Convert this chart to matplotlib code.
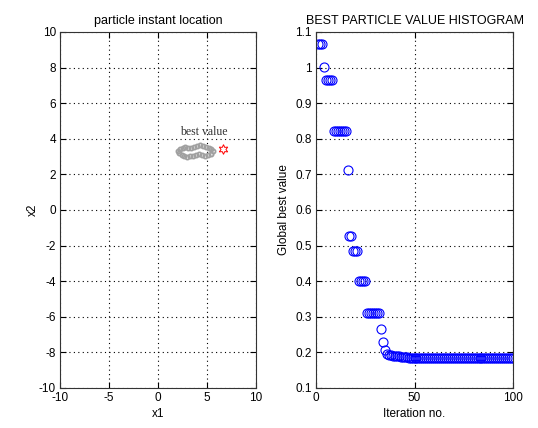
import matplotlib
matplotlib.use('Agg')
import matplotlib.pyplot as plt

# particle positions (left panel)
px = [2.0, 2.2, 2.5, 2.8, 3.1, 3.4, 3.7, 4.0, 4.3, 4.6, 4.9, 5.2, 5.45, 5.6,
      5.4, 5.1, 4.8, 4.5, 4.2, 3.9, 3.6, 3.3, 3.0, 2.7, 2.4, 2.1]
py = [3.3, 3.45, 3.5, 3.55, 3.5, 3.5, 3.55, 3.6, 3.65, 3.6, 3.55, 3.5, 3.4, 3.3,
      3.15, 3.1, 3.05, 3.1, 3.15, 3.1, 3.05, 3.05, 3.0, 3.05, 3.1, 3.2]
best_x, best_y = 6.6, 3.4

# best value per iteration (right panel)
iters = list(range(1, 101))
best_vals = ([1.065] * 3 + [1.003] + [0.964] * 4 + [0.822] * 7 + [0.713]
             + [0.528] * 2 + [0.486] * 3 + [0.400] * 4 + [0.311] * 7
             + [0.265, 0.228, 0.206]
             + [0.195, 0.193, 0.192, 0.191, 0.190, 0.190, 0.189]
             + [0.188, 0.187, 0.186, 0.186, 0.185, 0.185, 0.184, 0.184]
             + [0.183] * 50)

plt.rcParams['font.family'] = ['Liberation Sans', 'DejaVu Sans']
plt.rcParams['font.size'] = 8.5
plt.rcParams['axes.unicode_minus'] = False
plt.rcParams['xtick.direction'] = 'in'
plt.rcParams['ytick.direction'] = 'in'
plt.rcParams['xtick.top'] = True
plt.rcParams['ytick.right'] = True

fig = plt.figure(figsize=(5.38, 4.28), dpi=100)
ax1 = fig.add_axes([60/538, 40/428, 196/538, 356/428])
ax2 = fig.add_axes([316/538, 40/428, 197/538, 356/428])

ax1.plot(px, py, 'o', color='#a0a0a0', mfc='none', ms=3, mew=1.3)
ax1.plot(best_x, best_y, marker=(6, 1, 0), color='red', mfc='none', ms=7, mew=0.7)
ax1.text(2.2, 4.2, 'best value', family='Liberation Serif', fontsize=8.5, color='#333333')
ax1.set_xlim(-10, 10)
ax1.set_ylim(-10, 10)
ax1.set_xticks(range(-10, 11, 5))
ax1.set_yticks(range(-10, 11, 2))
ax1.set_xlabel('x1', labelpad=3)
ax1.set_ylabel('x2', labelpad=0)
ax1.set_title('particle instant location', fontsize=9)

ax2.plot(iters, best_vals, 'o', color='blue', mfc='none', ms=6.5, mew=0.8)
ax2.set_xlim(0, 100)
ax2.set_ylim(0.1, 1.1)
ax2.set_xticks([0, 50, 100])
yt = [0.1, 0.2, 0.3, 0.4, 0.5, 0.6, 0.7, 0.8, 0.9, 1.0, 1.1]
ax2.set_yticks(yt)
ax2.set_yticklabels(['0.1', '0.2', '0.3', '0.4', '0.5', '0.6', '0.7', '0.8', '0.9', '1', '1.1'])
ax2.set_xlabel('Iteration no.', labelpad=3)
ax2.set_ylabel('Global best value')
ax2.set_title('BEST PARTICLE VALUE HISTOGRAM', fontsize=9)

for ax in (ax1, ax2):
    ax.grid(True, linestyle=(0, (1, 3)), color='black', linewidth=0.8)
    ax.tick_params(length=4, width=0.8, pad=3)
    for s in ax.spines.values():
        s.set_linewidth(0.8)
        s.set_color('#333333')

fig.savefig('out.png', dpi=100)
